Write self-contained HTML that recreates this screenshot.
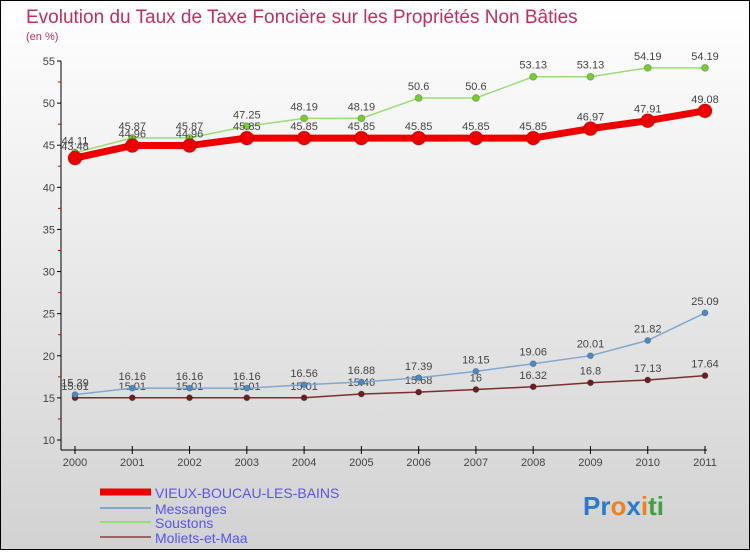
<!DOCTYPE html>
<html><head><meta charset="utf-8"><style>
body{margin:0;width:750px;height:550px;overflow:hidden;font-family:"Liberation Sans",sans-serif}
</style></head><body>
<svg width="750" height="550" xmlns="http://www.w3.org/2000/svg">
<defs><linearGradient id="bg" x1="0" y1="0" x2="0" y2="1"><stop offset="0" stop-color="#ffffff"/><stop offset="1" stop-color="#d2d2d2"/></linearGradient></defs>
<rect x="0.5" y="0.5" width="749" height="549" fill="url(#bg)" stroke="#000"/>
<text x="26" y="23" font-size="19" fill="#c0305e">Evolution du Taux de Taxe Foncière sur les Propriétés Non Bâties</text>
<text x="26" y="40" font-size="11" fill="#c0305e">(en %)</text>
<g id="axes"></g><g id="series"></g>
<g font-size="14" fill="#5555ee">
<line x1="100" y1="492" x2="151" y2="492" stroke="#ee0000" stroke-width="7"/>
<text x="155" y="498">VIEUX-BOUCAU-LES-BAINS</text>
<line x1="100" y1="508" x2="151" y2="508" stroke="#80a8d0" stroke-width="2"/>
<text x="155" y="514">Messanges</text>
<line x1="100" y1="522" x2="151" y2="522" stroke="#99dd77" stroke-width="2"/>
<text x="155" y="528">Soustons</text>
<line x1="100" y1="537" x2="151" y2="537" stroke="#996666" stroke-width="2"/>
<text x="155" y="543">Moliets-et-Maa</text>
</g>
<text x="583" y="515" font-size="26" font-weight="bold"><tspan fill="#2a7ad0">Pr</tspan><tspan fill="#f08020">o</tspan><tspan fill="#2a7ad0">x</tspan><tspan fill="#f08020">i</tspan><tspan fill="#40a040">ti</tspan></text>
</svg>
<script>
const years=["2000","2001","2002","2003","2004","2005","2006","2007","2008","2009","2010","2011"];
const yTicks=[10,15,20,25,30,35,40,45,50,55];
const vieux=[43.48,44.96,44.96,45.85,45.85,45.85,45.85,45.85,45.85,46.97,47.91,49.08];
const messanges=[15.39,16.16,16.16,16.16,16.56,16.88,17.39,18.15,19.06,20.01,21.82,25.09];
const soustons=[44.11,45.87,45.87,47.25,48.19,48.19,50.6,50.6,53.13,53.13,54.19,54.19];
const moliets=[15.01,15.01,15.01,15.01,15.01,15.46,15.68,16,16.32,16.8,17.13,17.64];
const NS="http://www.w3.org/2000/svg";
const X=i=>75+i*(630/11);
const Y=v=>61+(55-v)*(379/45);
function mk(tag,attrs,parent,txt){const e=document.createElementNS(NS,tag);for(const k in attrs)e.setAttribute(k,attrs[k]);if(txt!==undefined)e.textContent=txt;parent.appendChild(e);return e;}
const ax=document.getElementById('axes');
let e=mk('line',{x1:61,y1:61,x2:61,y2:450,stroke:'#000'},ax);


e=mk('line',{x1:61,y1:450,x2:707,y2:450,stroke:'#000'},ax);


yTicks.forEach(v=>{
 mk('line',{x1:57,y1:Y(v),x2:61,y2:Y(v),stroke:'#000'},ax);
 if(v<55)mk('line',{x1:58,y1:Y(v+2.5),x2:61,y2:Y(v+2.5),stroke:'#d00'},ax);
 const t=mk('text',{x:55,y:Y(v)+4,'font-size':11,'text-anchor':'end',fill:'#444'},ax,String(v));
 
 
});
years.forEach((y,i)=>{
 mk('line',{x1:X(i),y1:446,x2:X(i),y2:454,stroke:'#000'},ax);
 const t=mk('text',{x:X(i),y:466,'font-size':11,'text-anchor':'middle',fill:'#444'},ax,y);
 
 
});
const sg=document.getElementById('series');
function series(data,name,color,w,r,dot){
 const g=mk('g',{},sg);
 
 
 const l=mk('polyline',{points:data.map((v,i)=>X(i)+','+Y(v)).join(' '),fill:'none',stroke:color,'stroke-width':w,'stroke-linejoin':'round'},g);
 
 
 data.forEach((v,i)=>{
  const c=mk('circle',{cx:X(i),cy:Y(v),r:r,fill:dot,stroke:'#0003'},g);
  
  
  const t=mk('text',{x:X(i),y:Y(v)-8,'font-size':11,'text-anchor':'middle',fill:'#444'},g,String(v));
  
  
 });
}
series(moliets,'moliets','#7a3030',1.5,3,'#6a2020');
series(messanges,'messanges','#80a8d0',1.5,3,'#4a8ac8');
series(soustons,'soustons','#99dd77',1.5,3.5,'#77cc33');
series(vieux,'vieux','#ee0000',7,7,'#ee0000');
</script>
</body></html>
